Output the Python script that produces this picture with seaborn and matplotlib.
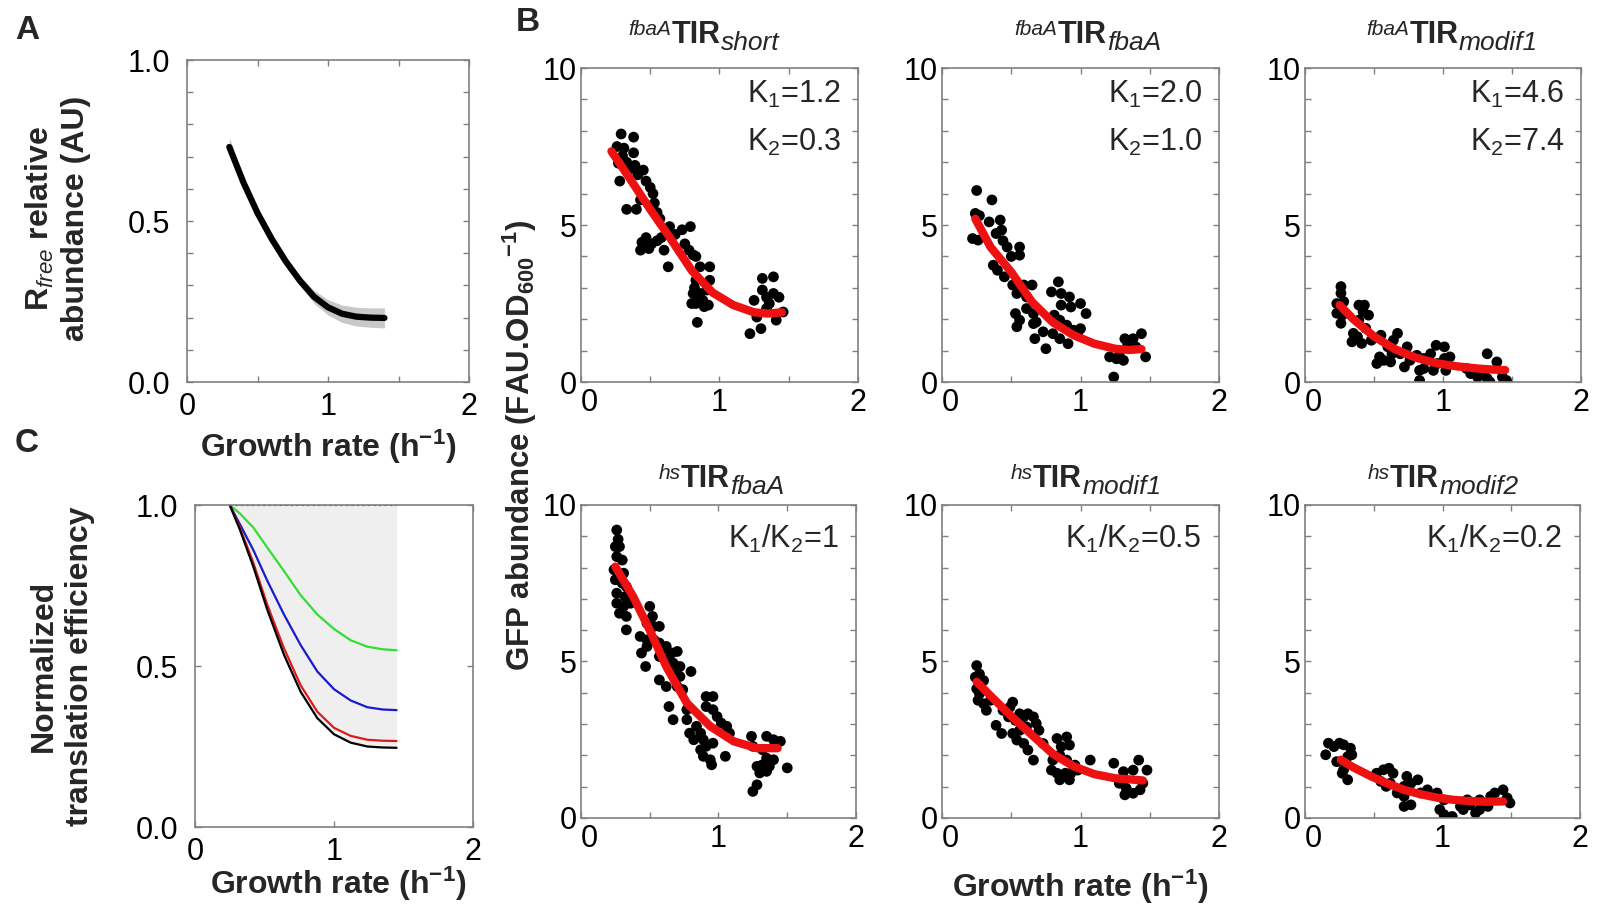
import matplotlib
matplotlib.use('Agg')
import matplotlib.pyplot as plt
from matplotlib.ticker import MultipleLocator, FuncFormatter
import seaborn as sns

# ================================================
# Data
# ================================================

# Panel A - free ribosome abundance
a_x = [0.30, 0.40, 0.50, 0.60, 0.70, 0.80, 0.90, 1.00, 1.10, 1.20, 1.30, 1.40]
a_y = [0.73, 0.62, 0.525, 0.445, 0.375, 0.315, 0.265, 0.232, 0.212, 0.203, 0.200, 0.199]
a_lo = [0.71, 0.607, 0.515, 0.435, 0.363, 0.300, 0.245, 0.208, 0.185, 0.174, 0.170, 0.168]
a_hi = [0.76, 0.632, 0.535, 0.455, 0.387, 0.330, 0.285, 0.256, 0.239, 0.232, 0.230, 0.230]

# Panel C - normalized translation efficiency
c_x = [0.25, 0.32, 0.42, 0.52, 0.64, 0.76, 0.88, 1.00, 1.12, 1.24, 1.35, 1.45]
c_green = [1.0, 0.975, 0.93, 0.868, 0.795, 0.72, 0.66, 0.615, 0.58, 0.56, 0.552, 0.549]
c_blue = [1.0, 0.943, 0.86, 0.765, 0.66, 0.565, 0.483, 0.428, 0.393, 0.372, 0.365, 0.363]
c_red = [1.0, 0.933, 0.82, 0.69, 0.555, 0.44, 0.358, 0.308, 0.283, 0.271, 0.268, 0.267]
c_black = [1.0, 0.927, 0.808, 0.675, 0.535, 0.42, 0.338, 0.288, 0.262, 0.25, 0.247, 0.246]
c_top = [1.0] * len(c_x)

# Panel B - GFP abundance vs growth rate
title_sup = ['fbaA', 'fbaA', 'fbaA', 'hs', 'hs', 'hs']
title_sub = ['short', 'fbaA', 'modif1', 'fbaA', 'modif1', 'modif2']
notes_top = [(r'K$_{\mathrm{1}}$=1.2', r'K$_{\mathrm{2}}$=0.3'),
             (r'K$_{\mathrm{1}}$=2.0', r'K$_{\mathrm{2}}$=1.0'),
             (r'K$_{\mathrm{1}}$=4.6', r'K$_{\mathrm{2}}$=7.4')]
notes_bottom = [r'K$_{\mathrm{1}}$/K$_{\mathrm{2}}$=1',
                r'K$_{\mathrm{1}}$/K$_{\mathrm{2}}$=0.5',
                r'K$_{\mathrm{1}}$/K$_{\mathrm{2}}$=0.2']

b1_x = [0.29, 0.38, 0.26, 0.31, 0.27, 0.28, 0.38, 0.39, 0.41, 0.45, 0.47, 0.50, 0.52, 0.33, 0.40,
        0.43, 0.53, 0.55, 0.57, 0.47, 0.43, 0.49, 0.55, 0.60, 0.62, 0.64, 0.68, 0.63, 0.73, 0.79,
        0.75, 0.78, 0.81, 0.83, 0.86, 0.93, 0.83, 0.81, 0.86, 0.83, 0.88, 0.91, 0.93, 0.84, 0.80,
        0.92, 1.25, 1.31, 1.31, 1.39, 1.34, 1.39, 1.43, 1.27, 1.34, 1.41, 1.46, 1.22, 1.30, 1.36,
        0.30, 0.33, 0.36, 0.44, 0.51, 0.58, 0.85, 0.89, 0.82]
b1_y = [7.9, 7.8, 7.5, 7.45, 6.97, 6.4, 7.3, 6.9, 6.6, 6.75, 6.4, 6.2, 6.0, 5.5, 5.5,
        5.8, 5.7, 5.4, 5.2, 4.6, 4.2, 4.25, 4.5, 4.2, 4.85, 4.95, 4.7, 3.67, 4.85, 4.95,
        4.4, 4.2, 4.05, 4.0, 3.67, 3.67, 3.24, 2.82, 2.82, 2.5, 2.6, 2.93, 3.24, 1.9, 2.5,
        2.45, 2.6, 2.93, 3.3, 3.35, 2.7, 2.82, 2.7, 2.07, 2.34, 1.97, 2.23, 1.54, 1.7, 2.5,
        7.2, 7.0, 6.8, 4.45, 4.4, 4.6, 2.65, 2.4, 3.0]
b1_fx = [0.22, 0.35, 0.50, 0.65, 0.80, 0.95, 1.10, 1.25, 1.35, 1.45]
b1_fy = [7.35, 6.5, 5.5, 4.55, 3.55, 2.85, 2.45, 2.22, 2.18, 2.22]

b2_x = [0.25, 0.36, 0.24, 0.27, 0.22, 0.26, 0.34, 0.42, 0.43, 0.39, 0.44, 0.47, 0.50, 0.56, 0.56,
        0.37, 0.40, 0.45, 0.51, 0.54, 0.59, 0.65, 0.61, 0.53, 0.56, 0.54, 0.61, 0.66, 0.68, 0.66,
        0.67, 0.73, 0.75, 0.79, 0.84, 0.86, 0.86, 0.92, 1.00, 0.93, 0.81, 0.85, 0.90, 0.95, 1.00,
        1.04, 0.80, 0.85, 0.91, 0.98, 1.21, 1.28, 1.32, 1.38, 1.44, 1.47, 1.24, 1.34, 1.40, 1.26,
        1.31]
b2_y = [6.1, 5.8, 5.37, 5.3, 4.57, 4.52, 5.1, 5.16, 4.84, 4.73, 4.5, 4.3, 4.0, 4.3, 4.04,
        3.72, 3.56, 3.35, 3.09, 2.82, 3.09, 3.09, 2.71, 2.18, 1.97, 1.76, 2.34, 2.18, 1.91, 1.86,
        1.38, 1.6, 1.06, 2.87, 3.19, 2.82, 2.45, 2.71, 2.5, 2.39, 2.13, 1.97, 1.81, 1.65, 1.7,
        2.18, 1.54, 1.38, 1.22, 1.54, 0.8, 0.85, 1.38, 1.38, 1.54, 0.8, 0.16, 1.22, 1.12, 0.74,
        0.69]
b2_fx = [0.24, 0.35, 0.50, 0.65, 0.80, 0.95, 1.10, 1.25, 1.35, 1.44]
b2_fy = [5.2, 4.3, 3.5, 2.55, 1.9, 1.49, 1.22, 1.06, 1.02, 1.05]

b3_x = [0.26, 0.26, 0.23, 0.28, 0.23, 0.27, 0.26, 0.35, 0.34, 0.39, 0.43, 0.42, 0.46, 0.39, 0.44,
        0.48, 0.41, 0.38, 0.54, 0.52, 0.57, 0.55, 0.60, 0.67, 0.64, 0.63, 0.62, 0.69, 0.74, 0.76,
        0.81, 0.83, 0.83, 0.86, 0.91, 0.95, 1.01, 0.96, 1.01, 1.05, 1.02, 0.93, 1.20, 1.25, 1.32,
        1.32, 1.34, 1.39, 1.43, 1.46, 1.30, 1.17, 0.72, 0.86]
b3_y = [3.04, 2.83, 2.5, 2.56, 2.19, 2.13, 1.87, 1.55, 1.28, 2.45, 2.45, 2.24, 2.13, 1.97, 1.71,
        1.33, 1.23, 1.44, 0.8, 0.59, 0.69, 1.49, 1.12, 1.55, 1.33, 0.9, 0.64, 0.9, 1.12, 0.69,
        0.85, 0.37, 0.05, 0.75, 0.9, 1.17, 1.12, 0.59, 0.75, 0.8, 0.37, 0.37, 0.27, 0.16, 0.9,
        0.11, 0.0, 0.64, 0.16, 0.05, 0.37, 0.43, 0.48, 0.43]
b3_fx = [0.25, 0.35, 0.50, 0.65, 0.80, 0.95, 1.10, 1.25, 1.35, 1.45]
b3_fy = [2.45, 2.0, 1.45, 1.05, 0.78, 0.6, 0.5, 0.43, 0.4, 0.38]

b4_x = [0.26, 0.27, 0.25, 0.28, 0.26, 0.30, 0.24, 0.31, 0.25, 0.30, 0.33, 0.26, 0.32, 0.26, 0.31,
        0.36, 0.28, 0.33, 0.33, 0.50, 0.52, 0.48, 0.53, 0.57, 0.43, 0.48, 0.53, 0.44, 0.48, 0.57,
        0.60, 0.62, 0.66, 0.70, 0.57, 0.62, 0.67, 0.72, 0.47, 0.67, 0.72, 0.80, 0.57, 0.62, 0.70,
        0.74, 0.64, 0.67, 0.77, 0.77, 0.91, 0.96, 0.91, 0.96, 0.99, 1.02, 1.06, 1.08, 0.84, 0.79,
        0.87, 0.82, 0.89, 0.91, 0.96, 0.87, 0.89, 0.94, 0.95, 1.05, 1.24, 1.25, 1.35, 1.40, 1.45,
        1.32, 1.35, 1.40, 1.32, 1.28, 1.30, 1.35, 1.28, 1.25, 1.50, 1.37]
b4_y = [9.2, 8.9, 8.67, 8.67, 8.35, 8.24, 7.93, 7.82, 7.61, 7.5, 7.39, 7.18, 7.07, 6.86, 6.76,
        6.86, 6.54, 6.44, 6.01, 6.76, 6.44, 6.22, 6.12, 6.12, 5.8, 5.69, 5.69, 5.27, 5.48, 5.59,
        5.37, 5.48, 5.27, 5.32, 5.16, 5.05, 4.95, 4.84, 4.84, 4.63, 4.52, 4.68, 4.41, 4.2, 4.2,
        4.1, 3.56, 3.14, 3.46, 3.14, 3.88, 3.88, 3.56, 3.46, 3.24, 3.03, 2.93, 2.71, 2.93, 2.71,
        2.71, 2.5, 2.5, 2.29, 2.39, 2.18, 1.97, 1.86, 1.7, 1.97, 2.61, 2.29, 2.61, 2.5, 2.45,
        2.18, 1.91, 1.86, 1.7, 1.65, 1.44, 1.49, 1.06, 0.85, 1.6, 1.65]
b4_fx = [0.25, 0.38, 0.50, 0.62, 0.77, 0.94, 1.11, 1.28, 1.43]
b4_fy = [8.03, 7.07, 6.0, 4.84, 3.67, 2.93, 2.45, 2.23, 2.23]

b5_x = [0.25, 0.24, 0.27, 0.30, 0.25, 0.27, 0.26, 0.30, 0.32, 0.35, 0.39, 0.43, 0.44, 0.49, 0.51,
        0.48, 0.53, 0.56, 0.59, 0.62, 0.66, 0.68, 0.70, 0.61, 0.56, 0.51, 0.54, 0.59, 0.62, 0.66,
        0.73, 0.83, 0.90, 0.86, 0.92, 0.80, 0.85, 0.90, 0.96, 1.07, 0.79, 0.83, 0.89, 0.93, 0.98,
        0.85, 0.92, 1.24, 1.31, 1.38, 1.42, 1.48, 1.28, 1.33, 1.38, 1.43, 1.32, 1.45]
b5_y = [4.87, 4.5, 4.6, 4.39, 4.13, 3.97, 3.76, 3.65, 3.44, 3.76, 2.96, 2.7, 3.44, 3.54, 3.7,
        3.23, 3.12, 3.33, 3.23, 3.33, 3.23, 3.02, 2.8, 2.91, 2.8, 2.7, 2.49, 2.38, 2.17, 1.85,
        2.38, 2.54, 2.59, 2.28, 2.33, 1.85, 2.01, 1.85, 1.69, 1.85, 1.53, 1.43, 1.43, 1.43, 1.53,
        1.22, 1.22, 1.75, 1.48, 1.53, 1.85, 1.53, 1.11, 0.95, 0.79, 0.9, 0.74, 1.11]
b5_fx = [0.25, 0.35, 0.50, 0.65, 0.80, 0.95, 1.10, 1.25, 1.45]
b5_fy = [4.35, 3.9, 3.25, 2.65, 2.05, 1.65, 1.4, 1.27, 1.2]

b6_x = [0.17, 0.15, 0.21, 0.25, 0.28, 0.33, 0.34, 0.31, 0.23, 0.28, 0.31, 0.27, 0.52, 0.57, 0.61,
        0.55, 0.59, 0.62, 0.64, 0.67, 0.72, 0.74, 0.77, 0.82, 0.72, 0.77, 0.72, 0.84, 0.89, 0.96,
        1.01, 0.98, 1.01, 1.07, 1.13, 1.18, 1.15, 1.20, 1.24, 1.27, 1.35, 1.38, 1.44, 1.47, 1.49,
        1.33, 1.27]
b6_y = [2.39, 2.02, 2.28, 2.39, 2.34, 2.23, 2.02, 1.96, 1.8, 1.54, 1.22, 1.43, 1.43, 1.54, 1.59,
        1.17, 1.01, 1.11, 1.43, 0.8, 1.01, 1.33, 1.11, 1.22, 0.69, 0.42, 0.37, 0.8, 0.9, 0.8,
        0.58, 0.27, 0.11, 0.05, 0.37, 0.58, 0.27, 0.42, 0.16, 0.58, 0.69, 0.8, 0.9, 0.64, 0.48,
        0.37, 0.27]
b6_fx = [0.26, 0.35, 0.48, 0.60, 0.72, 0.84, 0.96, 1.08, 1.20, 1.32, 1.44]
b6_fy = [1.86, 1.62, 1.33, 1.1, 0.9, 0.76, 0.65, 0.58, 0.54, 0.52, 0.53]

# ================================================
# Style
# ================================================
sns.set_style('ticks')
plt.rcParams['font.family'] = ['Liberation Sans', 'DejaVu Sans']
plt.rcParams['mathtext.fontset'] = 'custom'
plt.rcParams['mathtext.rm'] = 'Liberation Sans'
plt.rcParams['mathtext.it'] = 'Liberation Sans:italic'
plt.rcParams['mathtext.bf'] = 'Liberation Sans:bold'

GRAY = '#808080'
TICK_FS = 22
LABEL_FS = 23
growth_label = r'Growth rate (h$^{\mathbf{-1}}$)'


def style_axes(ax, ypad, xpad=7):
    for sp in ax.spines.values():
        sp.set_color(GRAY)
        sp.set_linewidth(1.2)
    ax.tick_params(which='both', direction='in', top=True, right=True,
                   color=GRAY, length=4, width=1, labelsize=TICK_FS, labelcolor='black')
    ax.tick_params(axis='y', pad=ypad)
    ax.tick_params(axis='x', pad=xpad)
    ax.set_xlabel('')
    ax.set_ylabel('')


# B panels: nudge the x "0" right so it clears the y "0" in the corner
def b_xfmt(v, pos):
    if v == 0:
        return '  0'
    return f'{v:g}'


fig = plt.figure(figsize=(15.97, 9.10), dpi=100)

# ================================================
# Panel A
# ================================================
ax_a = fig.add_axes([0.1171, 0.5802, 0.1766, 0.3538])
ax_a.fill_between(a_x, a_lo, a_hi, color='#c8c8c8', lw=0)
sns.lineplot(x=a_x, y=a_y, ax=ax_a, color='black', lw=4.5)
ax_a.set_xlim(0, 2)
ax_a.set_ylim(0, 1)
ax_a.xaxis.set_major_locator(MultipleLocator(1))
ax_a.xaxis.set_minor_locator(MultipleLocator(0.5))
ax_a.yaxis.set_major_locator(MultipleLocator(0.5))
ax_a.yaxis.set_minor_locator(MultipleLocator(0.1))
ax_a.yaxis.set_major_formatter('{x:.1f}')
style_axes(ax_a, ypad=12)

fig.text(0.036, 0.76, 'R$_{\\mathit{free}}$ relative\nabundance (AU)', rotation=90,
         ha='center', va='center', ma='center', fontsize=LABEL_FS, fontweight='bold',
         linespacing=1.25)
fig.text(0.2054, 0.5088, growth_label, ha='center', va='center', fontsize=LABEL_FS,
         fontweight='bold')

# ================================================
# Panel C
# ================================================
ax_c = fig.add_axes([0.1221, 0.0912, 0.1741, 0.3538])
ax_c.fill_between(c_x, c_black, c_top, color='#efefef', lw=0)
sns.lineplot(x=c_x, y=c_top, ax=ax_c, color='black', lw=1.5, linestyle=':')
sns.lineplot(x=c_x, y=c_green, ax=ax_c, color='#33dd33', lw=1.6)
sns.lineplot(x=c_x, y=c_blue, ax=ax_c, color='#1a1acc', lw=1.6)
sns.lineplot(x=c_x, y=c_red, ax=ax_c, color='#dd1a1a', lw=1.6)
sns.lineplot(x=c_x, y=c_black, ax=ax_c, color='black', lw=1.6)
ax_c.set_xlim(0, 2)
ax_c.set_ylim(0, 1)
ax_c.xaxis.set_major_locator(MultipleLocator(1))
ax_c.yaxis.set_major_locator(MultipleLocator(0.5))
ax_c.yaxis.set_major_formatter('{x:.1f}')
style_axes(ax_c, ypad=12)

fig.text(0.0388, 0.268, 'Normalized\ntranslation efficiency', rotation=90,
         ha='center', va='center', ma='center', fontsize=LABEL_FS, fontweight='bold',
         linespacing=1.25)
fig.text(0.2115, 0.029, growth_label, ha='center', va='center', fontsize=LABEL_FS,
         fontweight='bold')

# ================================================
# Panel B - six scatter panels
# ================================================
b_rects = [[0.3638, 0.5802, 0.1734, 0.345],
           [0.5899, 0.5802, 0.1734, 0.345],
           [0.8172, 0.5802, 0.1728, 0.345],
           [0.3638, 0.1011, 0.1722, 0.344],
           [0.5899, 0.1011, 0.1734, 0.344],
           [0.8172, 0.1011, 0.1722, 0.344]]
b_points = [(b1_x, b1_y), (b2_x, b2_y), (b3_x, b3_y), (b4_x, b4_y), (b5_x, b5_y), (b6_x, b6_y)]
b_fits = [(b1_fx, b1_fy), (b2_fx, b2_fy), (b3_fx, b3_fy), (b4_fx, b4_fy), (b5_fx, b5_fy), (b6_fx, b6_fy)]
tir_x = [0.415, 0.505, 0.466, 0.451, 0.415, 0.396]
tir_y = [1.080, 1.080, 1.080, 1.0575, 1.0575, 1.0575]

for i in range(6):
    ax = fig.add_axes(b_rects[i])
    px, py = b_points[i]
    fx, fy = b_fits[i]
    sns.scatterplot(x=px, y=py, ax=ax, color='black', s=60, edgecolor='none', zorder=2)
    sns.lineplot(x=fx, y=fy, ax=ax, color='#ee1111', lw=6, zorder=3)
    ax.set_xlim(0, 2)
    ax.set_ylim(0, 10)
    ax.xaxis.set_major_locator(MultipleLocator(1))
    ax.xaxis.set_minor_locator(MultipleLocator(0.5))
    ax.yaxis.set_major_locator(MultipleLocator(5))
    ax.yaxis.set_minor_locator(MultipleLocator(1))
    ax.xaxis.set_major_formatter(FuncFormatter(b_xfmt))
    style_axes(ax, ypad=3, xpad=4)

    # title: superscript + bold TIR + subscript
    tir = ax.text(tir_x[i], tir_y[i], 'TIR', transform=ax.transAxes, ha='center',
                  va='baseline', fontsize=22, fontweight='bold')
    ax.annotate(title_sup[i], xy=(0, 1), xycoords=tir, xytext=(0, 0),
                textcoords='offset points', ha='right', va='top', fontsize=15,
                style='italic')
    ax.annotate(title_sub[i], xy=(1, 0), xycoords=tir, xytext=(0.5, 0),
                textcoords='offset points', ha='left', va='baseline', fontsize=19,
                style='italic')

    if i < 3:
        ax.text(0.94, 0.889, notes_top[i][0], transform=ax.transAxes, ha='right',
                va='baseline', fontsize=22)
        ax.text(0.94, 0.736, notes_top[i][1], transform=ax.transAxes, ha='right',
                va='baseline', fontsize=22)
    else:
        ax.text(0.935, 0.863, notes_bottom[i - 3], transform=ax.transAxes, ha='right',
                va='baseline', fontsize=22)

fig.text(0.3256, 0.511, r'GFP abundance (FAU.OD$_{\mathbf{600}}{}^{\mathbf{-1}}$)', rotation=90,
         ha='center', va='center', fontsize=22.5, fontweight='bold')
fig.text(0.6763, 0.0253, growth_label, ha='center', va='center', fontsize=LABEL_FS,
         fontweight='bold')

# panel letters
fig.text(0.0169, 0.966, 'A', ha='center', va='center', fontsize=24, fontweight='bold')
fig.text(0.3306, 0.975, 'B', ha='center', va='center', fontsize=24, fontweight='bold')
fig.text(0.0169, 0.513, 'C', ha='center', va='center', fontsize=24, fontweight='bold')

plt.savefig('out.png', dpi=100)
print("Figure saved.")
